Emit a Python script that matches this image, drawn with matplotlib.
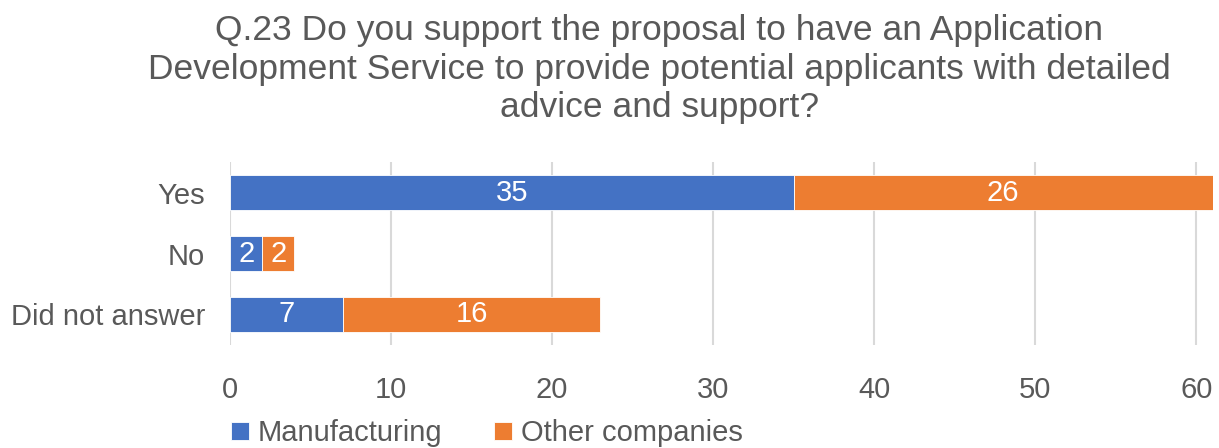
import matplotlib.pyplot as plt
import numpy as np

plt.rcParams['font.family'] = ['Liberation Sans', 'DejaVu Sans']

# Survey responses per answer
answers = ["Yes", "No", "Did not answer"]
manufacturing = [35, 2, 7]
other_companies = [26, 2, 16]
series_names = ["Manufacturing", "Other companies"]

blue = "#4472C4"
orange = "#ED7D31"
grey_text = "#595959"

fig = plt.figure(figsize=(12.19, 4.48), dpi=100)
ax = fig.add_axes([0.1887, 0.23, 0.806, 0.408])

y = np.arange(len(answers))
b1 = ax.barh(y, manufacturing, height=0.57, color=blue, edgecolor="white",
             linewidth=0.6, label=series_names[0], zorder=3)
b2 = ax.barh(y, other_companies, left=manufacturing, height=0.57, color=orange,
             edgecolor="white", linewidth=0.6, label=series_names[1], zorder=3)

# Value labels in the middle of each segment
for bars in (b1, b2):
    ax.bar_label(bars, label_type="center", color="white", fontsize=21)

ax.set_xlim(0, 61)
ax.set_ylim(len(answers) - 0.5, -0.5)
ax.set_xticks(range(0, 61, 10))
ax.set_yticks(y)
ax.set_yticklabels(answers)
ax.tick_params(axis="both", length=0, labelsize=21, colors=grey_text)
ax.tick_params(axis="x", pad=22)
ax.tick_params(axis="y", pad=18)
ax.xaxis.grid(True, color="#D9D9D9", linewidth=1.5, zorder=0)
for s in ax.spines.values():
    s.set_visible(False)

fig.text(0.541, 0.968,
         "Q.23 Do you support the proposal to have an Application\n"
         "Development Service to provide potential applicants with detailed\n"
         "advice and support?",
         ha="center", va="top", fontsize=25.5, color=grey_text, linespacing=1.2)

fig.legend(handles=[b1, b2], labels=series_names, loc="center left",
           bbox_to_anchor=(0.168, 0.033), ncol=2, frameon=False, fontsize=21,
           labelcolor=grey_text, handlelength=0.6, handleheight=0.6,
           handletextpad=0.3, columnspacing=1.8)

fig.savefig("out.png", dpi=100)
